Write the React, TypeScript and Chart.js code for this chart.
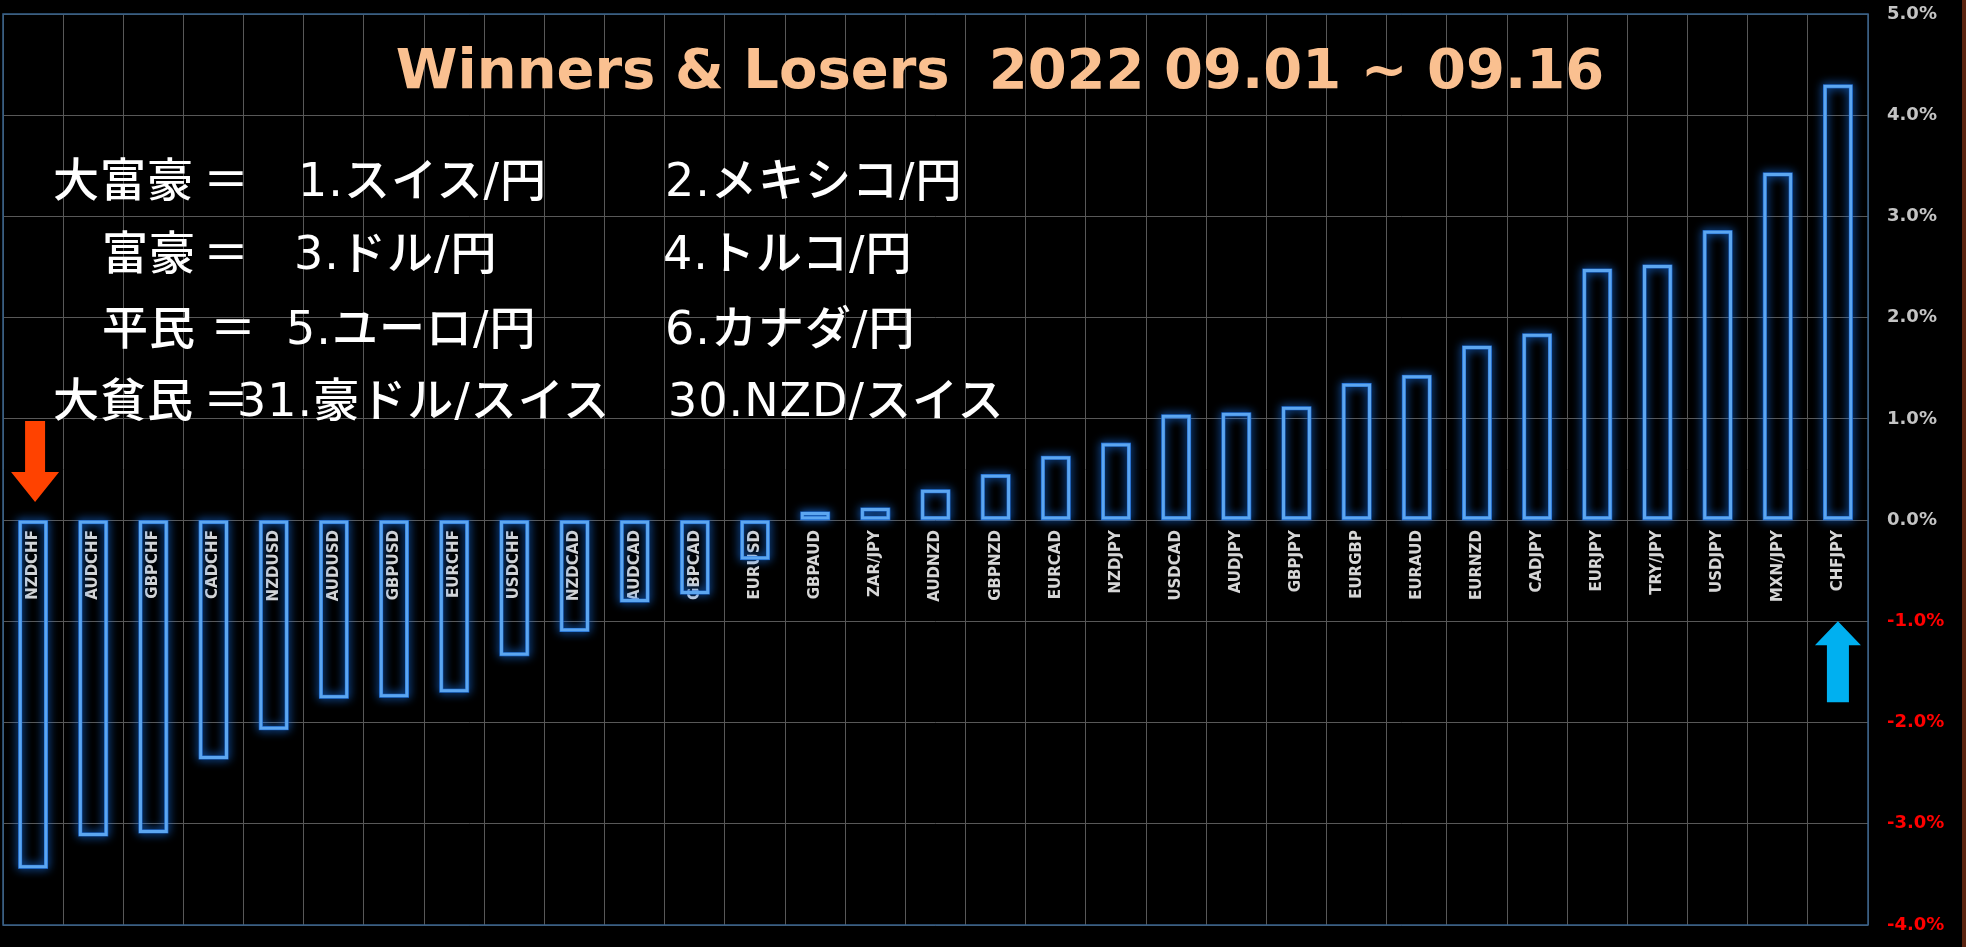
import React, { useEffect, useRef } from 'react';
import { Chart, registerables } from 'chart.js';

Chart.register(...registerables);

// ---- data ----
const pairs: string[] = [
  'NZDCHF', 'AUDCHF', 'GBPCHF', 'CADCHF', 'NZDUSD', 'AUDUSD', 'GBPUSD', 'EURCHF',
  'USDCHF', 'NZDCAD', 'AUDCAD', 'GBPCAD', 'EURUSD', 'GBPAUD', 'ZAR/JPY', 'AUDNZD',
  'GBPNZD', 'EURCAD', 'NZDJPY', 'USDCAD', 'AUDJPY', 'GBPJPY', 'EURGBP', 'EURAUD',
  'EURNZD', 'CADJPY', 'EURJPY', 'TRY/JPY', 'USDJPY', 'MXN/JPY', 'CHFJPY',
];
const changePct: number[] = [
  -3.44, -3.12, -3.09, -2.36, -2.07, -1.76, -1.75, -1.70,
  -1.34, -1.10, -0.81, -0.73, -0.39, 0.08, 0.12, 0.30,
  0.45, 0.63, 0.76, 1.04, 1.06, 1.12, 1.35, 1.43,
  1.72, 1.84, 2.48, 2.52, 2.86, 3.43, 4.30,
];
const yTickValues: number[] = [-4, -3, -2, -1, 0, 1, 2, 3, 4, 5];

const titleText = 'Winners & Losers  2022 09.01 ~ 09.16';
const rankLabels: string[] = ['大富豪', '富豪', '平民', '大貧民'];
const rankFirst: string[] = ['1.スイス/円', '3.ドル/円', '5.ユーロ/円', '31.豪ドル/スイス'];
const rankSecond: string[] = ['2.メキシコ/円', '4.トルコ/円', '6.カナダ/円', '30.NZD/スイス'];

// arrows: category index, tail value, tip value (in % units)
const loserArrow = { index: 0, tail: 0.98, tip: 0.18 };
const winnerArrow = { index: 30, tail: -1.8, tip: -1.0 };

// ---- layout (styles only) ----
const W = 1966;
const H = 947;
const rowLayout = [
  { top: 157, label: 53, eq: 203, first: 298, second: 665 },
  { top: 230, label: 102, eq: 203, first: 294, second: 663 },
  { top: 305, label: 102, eq: 210, first: 286, second: 665 },
  { top: 377, label: 53, eq: 203, first: 237, second: 668 },
];

function drawArrow(ctx: CanvasRenderingContext2D, x: number, yTail: number, yTip: number,
  shaftW: number, headW: number, headH: number, color: string) {
  const dir = yTip > yTail ? 1 : -1;
  const yHeadBase = yTip - dir * headH;
  ctx.save();
  ctx.fillStyle = color;
  ctx.beginPath();
  ctx.moveTo(x - shaftW / 2, yTail);
  ctx.lineTo(x + shaftW / 2, yTail);
  ctx.lineTo(x + shaftW / 2, yHeadBase);
  ctx.lineTo(x + headW / 2, yHeadBase);
  ctx.lineTo(x, yTip);
  ctx.lineTo(x - headW / 2, yHeadBase);
  ctx.lineTo(x - shaftW / 2, yHeadBase);
  ctx.closePath();
  ctx.fill();
  ctx.restore();
}

const neonPlugin = {
  id: 'neon',
  beforeDatasetsDraw(chart: any) {
    const { ctx, chartArea } = chart;
    ctx.save();
    ctx.strokeStyle = '#36618c';
    ctx.lineWidth = 1.5;
    ctx.strokeRect(chartArea.left, chartArea.top, chartArea.right - chartArea.left, chartArea.bottom - chartArea.top);
    ctx.restore();

    const meta = chart.getDatasetMeta(0);
    ctx.save();
    ctx.shadowColor = 'rgba(25,125,255,1)';
    ctx.shadowBlur = 10;
    ctx.strokeStyle = 'rgba(35,115,220,0.95)';
    ctx.lineWidth = 4;
    meta.data.forEach((el: any) => {
      const { x, y, base, width } = el.getProps(['x', 'y', 'base', 'width'], true);
      const top = Math.min(y, base);
      const h = Math.abs(y - base);
      ctx.strokeRect(x - width / 2 + 1.5, top + 1.5, width - 3, h - 3);
    });
    ctx.restore();
  },
  afterDatasetsDraw(chart: any) {
    const { ctx } = chart;
    const xs = chart.scales.x;
    const ys = chart.scales.y;
    drawArrow(ctx, xs.getPixelForValue(loserArrow.index) + 2,
      ys.getPixelForValue(loserArrow.tail), ys.getPixelForValue(loserArrow.tip),
      20, 48, 30, '#ff4200');
    drawArrow(ctx, xs.getPixelForValue(winnerArrow.index),
      ys.getPixelForValue(winnerArrow.tail), ys.getPixelForValue(winnerArrow.tip),
      22, 46, 24, '#00b0f0');
  },
};

export default function App() {
  const canvasRef = useRef<HTMLCanvasElement | null>(null);

  useEffect(() => {
    const canvas = canvasRef.current;
    if (!canvas) return;
    const chart = new Chart(canvas, {
      type: 'bar',
      data: {
        labels: pairs,
        datasets: [
          {
            data: changePct,
            backgroundColor: 'rgba(0,0,0,0)',
            borderColor: '#5ca6f0',
            borderWidth: 3,
            borderSkipped: false,
            categoryPercentage: 1,
            barPercentage: 0.48,
          },
        ],
      },
      options: {
        responsive: false,
        animation: false,
        layout: { padding: { left: 3, top: 14, right: 0, bottom: 22 } },
        plugins: {
          legend: { display: false },
          tooltip: { enabled: false },
          title: { display: false },
        },
        scales: {
          x: {
            position: { y: 0 } as any,
            offset: true,
            afterFit: (scale: any) => {
              scale.paddingLeft = 0;
              scale.paddingRight = 0;
              scale.paddingTop = 0;
              scale.paddingBottom = 0;
            },
            grid: { color: '#585858', lineWidth: 1, offset: true, drawTicks: false },
            border: { display: false },
            ticks: {
              autoSkip: false,
              minRotation: 90,
              maxRotation: 90,
              padding: 10,
              color: '#d6d6d6',
              font: { family: 'DejaVu Sans', size: 15, weight: 'bold' },
            },
          },
          y: {
            position: 'right',
            min: -4,
            max: 5,
            afterBuildTicks: (scale: any) => {
              scale.ticks = yTickValues.map((v) => ({ value: v }));
            },
            afterFit: (scale: any) => {
              scale.width = 98;
              scale.paddingTop = 0;
              scale.paddingBottom = 0;
            },
            grid: { color: '#585858', lineWidth: 1, drawTicks: false },
            border: { display: false },
            ticks: {
              padding: 19,
              color: (c: any) => (c.tick && c.tick.value < 0 ? '#ff0000' : '#c4c4c4'),
              font: { family: 'DejaVu Sans', size: 18, weight: 'bold' },
              callback: (v: any) => `${Number(v).toFixed(1)}%`,
            },
          },
        },
      },
      plugins: [neonPlugin],
    });
    return () => chart.destroy();
  }, []);

  const jpFont = '"DejaVu Sans", "Noto Sans CJK JP", "Noto Sans CJK SC", sans-serif';
  const rowStyle = (top: number, left: number): React.CSSProperties => ({
    position: 'absolute',
    top,
    left,
    fontFamily: jpFont,
    fontSize: 46,
    fontWeight: 500,
    lineHeight: 1,
    color: '#ffffff',
    whiteSpace: 'pre',
    letterSpacing: 1,
  });

  return (
    <div style={{ position: 'absolute', left: 0, top: 0, width: W, height: H, background: '#000', overflow: 'hidden' }}>
      <canvas ref={canvasRef} width={W} height={H} style={{ position: 'absolute', left: 0, top: 0, width: W, height: H }} />
      <div style={{ position: 'absolute', left: 1962, top: 0, width: 4, height: H, background: '#5a2410' }} />
      <div
        style={{
          position: 'absolute',
          top: 41,
          left: 1000,
          transform: 'translateX(-50%)',
          fontFamily: '"DejaVu Sans", sans-serif',
          fontWeight: 'bold',
          fontSize: 56,
          lineHeight: 1,
          color: '#fac090',
          whiteSpace: 'pre',
        }}
      >
        {titleText}
      </div>
      {rankLabels.map((lab, i) => (
        <React.Fragment key={lab}>
          <div style={rowStyle(rowLayout[i].top, rowLayout[i].label)}>{lab}</div>
          <div style={rowStyle(rowLayout[i].top, rowLayout[i].eq)}>＝</div>
          <div style={rowStyle(rowLayout[i].top, rowLayout[i].first)}>{rankFirst[i]}</div>
          <div style={rowStyle(rowLayout[i].top, rowLayout[i].second)}>{rankSecond[i]}</div>
        </React.Fragment>
      ))}
    </div>
  );
}
